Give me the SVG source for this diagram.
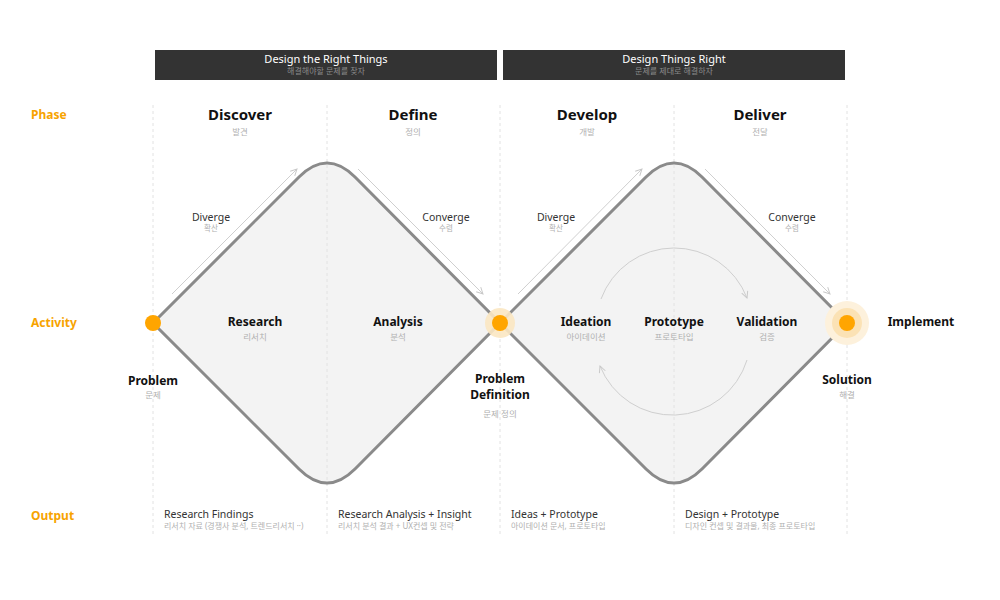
<svg xmlns="http://www.w3.org/2000/svg" width="1000" height="600" viewBox="0 0 1000 600">
<style>
text{font-family:"Noto Sans","Noto Sans CJK KR",sans-serif;}
.hd{fill:#fff;font-size:11px;text-anchor:middle;}
.hdk{fill:#8a8a8a;font-size:8px;text-anchor:middle;}
.lbl{fill:#f7a300;font-size:12px;font-weight:700;}
.ph{fill:#111;font-size:15px;font-weight:700;text-anchor:middle;}
.ko{fill:#b0b0b0;font-size:8.5px;text-anchor:middle;}
.act{fill:#111;font-size:12px;font-weight:700;text-anchor:middle;}
.dv{fill:#333;font-size:10.5px;text-anchor:middle;}
.out{fill:#333;font-size:10.5px;}
.outk{fill:#b0b0b0;font-size:8px;}
.dash{stroke:#e2e2e2;stroke-width:1;stroke-dasharray:3 3;}
.dfill{fill:#f3f3f3;stroke:none;}
.dstroke{fill:none;stroke:#8a8a8a;stroke-width:3;}
.thin{stroke:#cfcfcf;stroke-width:1;fill:none;}
</style>
<defs>
<marker id="ah" viewBox="0 0 10 10" refX="9" refY="5" markerWidth="8" markerHeight="8" orient="auto" markerUnits="userSpaceOnUse">
<path d="M1,1 L9,5 L1,9" fill="none" stroke="#c8c8c8" stroke-width="1.2"/>
</marker>
</defs>
<rect width="1000" height="600" fill="#fff"/>

<g id="header-left">
<rect x="155" y="50" width="342" height="30" fill="#333"/>
<text class="hd" x="326" y="63">Design the Right Things</text>
<text class="hdk" x="326" y="74">해결해야할 문제를 찾자</text>
</g>
<g id="header-right">
<rect x="503" y="50" width="342" height="30" fill="#333"/>
<text class="hd" x="674" y="63">Design Things Right</text>
<text class="hdk" x="674" y="74">문제를 제대로 해결하자</text>
</g>

<g id="row-labels">
<text class="lbl" x="31" y="119">Phase</text>
<text class="lbl" x="31" y="327">Activity</text>
<text class="lbl" x="31" y="520">Output</text>
</g>

<g id="diamond-fills">
<path class="dfill" d="M153,323 L299,177 Q327,149 355,177 L500,323 L355,469 Q327,497 299,469 Z"/>
<path class="dfill" d="M500,323 L646,177 Q674,149 702,177 L847,323 L702,469 Q674,497 646,469 Z"/>
</g>

<g id="grid">
<line class="dash" x1="153" y1="105" x2="153" y2="535"/>
<line class="dash" x1="327" y1="105" x2="327" y2="535"/>
<line class="dash" x1="500" y1="105" x2="500" y2="535"/>
<line class="dash" x1="674" y1="105" x2="674" y2="535"/>
<line class="dash" x1="847" y1="105" x2="847" y2="535"/>
</g>

<g id="diamond-1">
<path class="dstroke" d="M153,323 L299,177 Q327,149 355,177 L500,323 L355,469 Q327,497 299,469 Z"/>
</g>
<g id="diamond-2">
<path class="dstroke" d="M500,323 L646,177 Q674,149 702,177 L847,323 L702,469 Q674,497 646,469 Z"/>
</g>

<g id="connectors">
<line class="thin" x1="172" y1="294" x2="297" y2="169" marker-end="url(#ah)"/>
<line class="thin" x1="358" y1="169" x2="483" y2="294" marker-end="url(#ah)"/>
<line class="thin" x1="518" y1="294" x2="642" y2="169" marker-end="url(#ah)"/>
<line class="thin" x1="705" y1="169" x2="830" y2="294" marker-end="url(#ah)"/>
<path class="thin" d="M601,299 A78,78 0 0 1 747,298" marker-end="url(#ah)"/>
<path class="thin" d="M747,360 A78,78 0 0 1 600,366" marker-end="url(#ah)"/>
</g>

<g id="node-problem">
<circle cx="153" cy="323" r="8" fill="#ffa500"/>
<text class="act" x="153" y="385">Problem</text>
<text class="ko" x="153" y="398">문제</text>
</g>
<g id="node-problem-definition">
<circle cx="500" cy="323" r="15" fill="#fbe7c2" opacity="0.9"/>
<circle cx="500" cy="323" r="8" fill="#ffa500"/>
<text class="act" x="500" y="383">Problem</text>
<text class="act" x="500" y="399">Definition</text>
<text class="ko" x="500" y="417">문제 정의</text>
</g>
<g id="node-solution">
<circle cx="847" cy="323" r="22" fill="#fdf1dc"/>
<circle cx="847" cy="323" r="15" fill="#fbe2b5"/>
<circle cx="847" cy="323" r="8" fill="#ffa500"/>
<text class="act" x="847" y="384">Solution</text>
<text class="ko" x="847" y="398">해결</text>
</g>

<g id="phase-discover"><text class="ph" x="240" y="120">Discover</text><text class="ko" x="240" y="135">발견</text></g>
<g id="phase-define"><text class="ph" x="413" y="120">Define</text><text class="ko" x="413" y="135">정의</text></g>
<g id="phase-develop"><text class="ph" x="587" y="120">Develop</text><text class="ko" x="587" y="135">개발</text></g>
<g id="phase-deliver"><text class="ph" x="760" y="120">Deliver</text><text class="ko" x="760" y="135">전달</text></g>

<g id="label-diverge-1"><text class="dv" x="211" y="221">Diverge</text><text class="ko" x="211" y="231" style="font-size:7.5px">확산</text></g>
<g id="label-converge-1"><text class="dv" x="446" y="221">Converge</text><text class="ko" x="446" y="231" style="font-size:7.5px">수렴</text></g>
<g id="label-diverge-2"><text class="dv" x="556" y="221">Diverge</text><text class="ko" x="556" y="231" style="font-size:7.5px">확산</text></g>
<g id="label-converge-2"><text class="dv" x="792" y="221">Converge</text><text class="ko" x="792" y="231" style="font-size:7.5px">수렴</text></g>

<g id="act-research"><text class="act" x="255" y="326">Research</text><text class="ko" x="255" y="340">리서치</text></g>
<g id="act-analysis"><text class="act" x="398" y="326">Analysis</text><text class="ko" x="398" y="340">분석</text></g>
<g id="act-ideation"><text class="act" x="586" y="326">Ideation</text><text class="ko" x="586" y="340">아이데이션</text></g>
<g id="act-prototype"><text class="act" x="674" y="326">Prototype</text><text class="ko" x="674" y="340">프로토타입</text></g>
<g id="act-validation"><text class="act" x="767" y="326">Validation</text><text class="ko" x="767" y="340">검증</text></g>
<g id="act-implement"><text class="act" x="921" y="326">Implement</text></g>

<g id="out-1"><text class="out" x="164" y="518">Research Findings</text><text class="outk" x="164" y="529">리서치 자료 (경쟁사 분석, 트렌드리서치 ··)</text></g>
<g id="out-2"><text class="out" x="338" y="518">Research Analysis + Insight</text><text class="outk" x="338" y="529">리서치 분석 결과 + UX컨셉 및 전략</text></g>
<g id="out-3"><text class="out" x="511" y="518">Ideas + Prototype</text><text class="outk" x="511" y="529">아이데이션 문서, 프로토타입</text></g>
<g id="out-4"><text class="out" x="685" y="518">Design + Prototype</text><text class="outk" x="685" y="529">디자인 컨셉 및 결과물, 최종 프로토타입</text></g>
</svg>
